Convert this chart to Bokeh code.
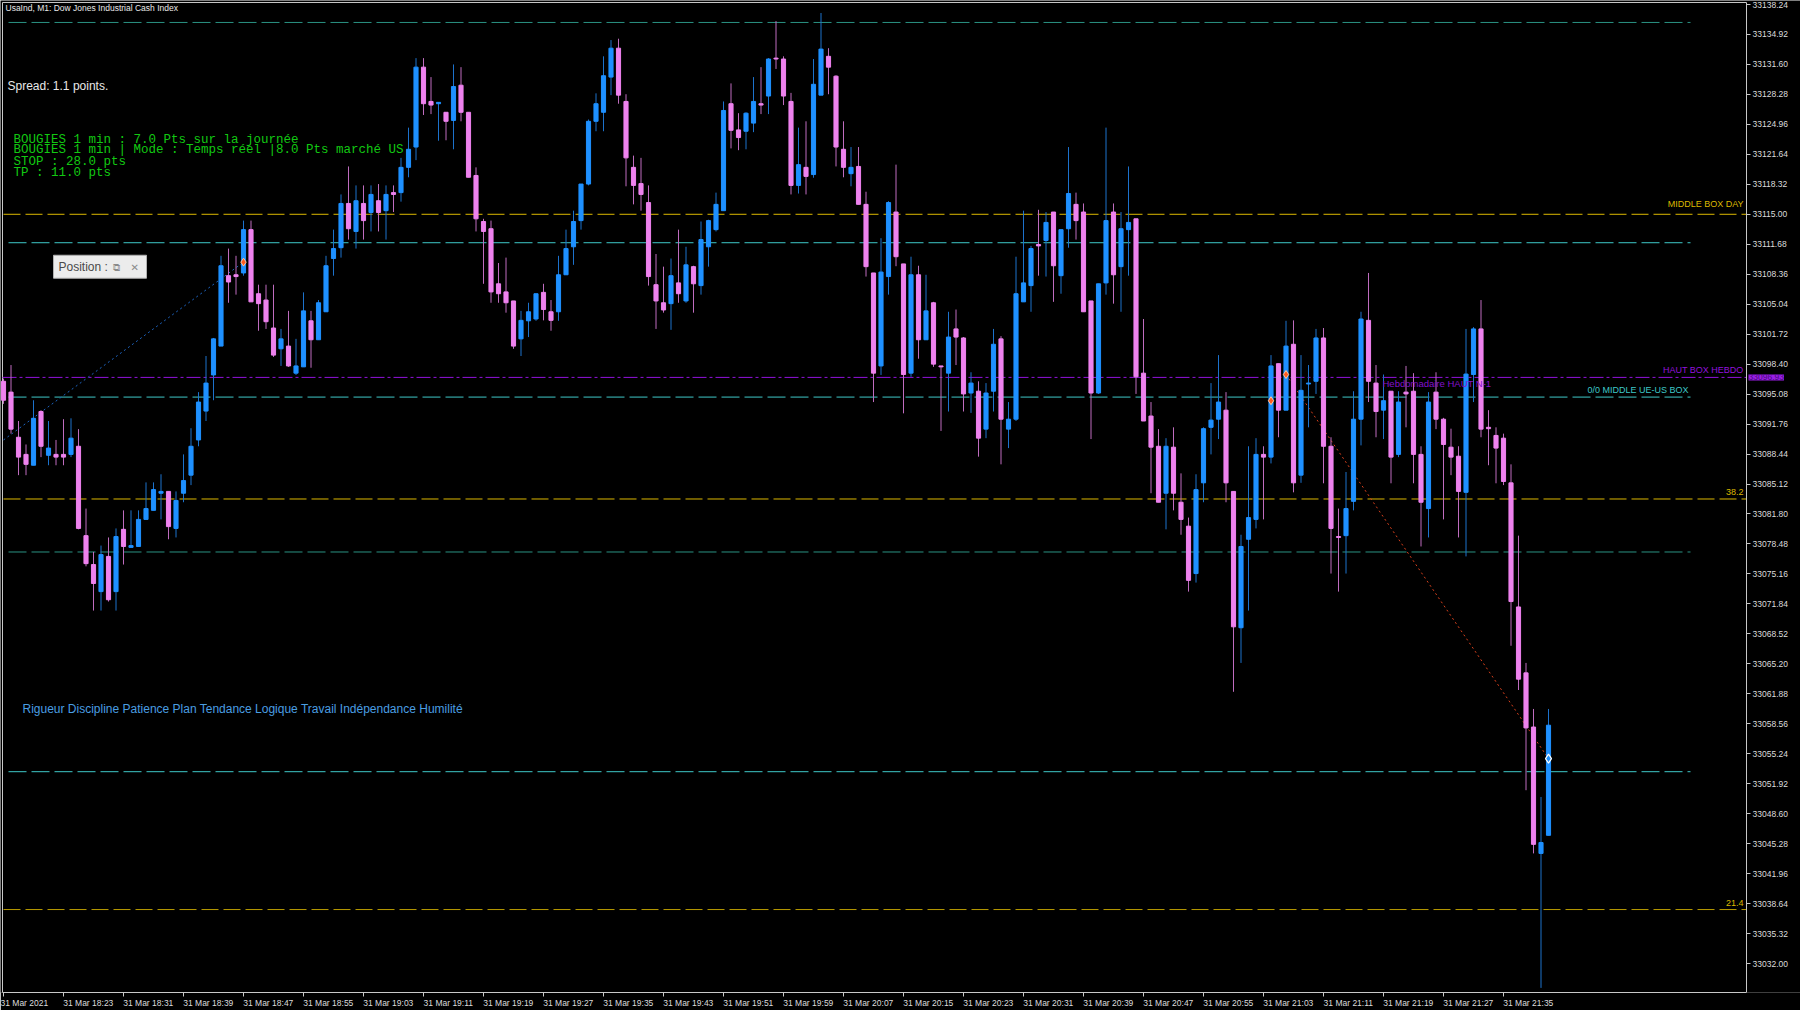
from bokeh.plotting import figure
from bokeh.models import Range1d, LinearAxis, FixedTicker, Label, BoxAnnotation, ColumnDataSource
from bokeh.embed import file_html
from bokeh.resources import INLINE

# ---------------- data ----------------
opens = [33096.5, 33095.3, 33090.3, 33088.4, 33087.2, 33093.15, 33088.3, 33088.4, 33088.4, 33088.4,
         33089.3, 33079.4, 33076.2, 33073.2, 33077.1, 33073.2, 33080.1, 33078.1, 33078.2, 33081.2,
         33082.2, 33084.1, 33084.3, 33080.2, 33084.1, 33086.1, 33090.0, 33093.2, 33097.2, 33100.4,
         33108.2, 33108.3, 33108.5, 33113.3, 33106.2, 33105.5, 33102.4, 33100.1, 33100.4, 33097.4,
         33098.1, 33103.2, 33101.1, 33104.2, 33110.1, 33111.3, 33116.2, 33113.1, 33116.2, 33115.2,
         33116.5, 33115.4, 33117.4, 33117.4, 33120.2, 33122.45, 33131.3, 33127.5, 33127.25, 33126.3,
         33125.4, 33129.3, 33126.3, 33119.3, 33114.2, 33113.4, 33107.3, 33106.4, 33105.4, 33101.2,
         33103.2, 33103.4, 33106.35, 33104.2, 33104.2, 33108.3, 33111.4, 33114.3, 33118.35, 33125.3,
         33126.3, 33130.2, 33133.4, 33127.5, 33120.2, 33118.4, 33116.3, 33107.2, 33105.2, 33105.1,
         33107.4, 33105.4, 33109.2, 33107.1, 33111.4, 33113.3, 33115.4, 33127.25, 33124.35, 33124.2,
         33125.1, 33127.25, 33128.1, 33132.3, 33132.2, 33127.5, 33118.2, 33120.2, 33119.4, 33128.2,
         33132.5, 33130.3, 33122.2, 33119.5, 33120.3, 33116.1, 33108.5, 33098.2, 33108.1, 33115.25,
         33109.5, 33097.4, 33108.3, 33101.1, 33105.2, 33098.2, 33097.4, 33102.3, 33101.3, 33095.2,
         33095.4, 33091.2, 33095.4, 33101.2, 33091.2, 33092.3, 33105.3, 33107.1, 33111.65, 33112.1,
         33115.25, 33108.2, 33113.4, 33116.1, 33115.25, 33105.4, 33095.2, 33107.4, 33115.25, 33109.2,
         33113.3, 33114.5, 33097.4, 33092.65, 33089.3, 33084.1, 33089.2, 33083.1, 33080.45, 33075.2,
         33085.25, 33091.4, 33092.3, 33093.3, 33084.3, 33069.2, 33079.0, 33081.2, 33088.4, 33088.1,
         33098.45, 33093.3, 33100.6, 33086.1, 33096.2, 33096.5, 33101.3, 33089.3, 33079.3, 33079.4,
         33083.2, 33092.3, 33103.25, 33096.3, 33093.3, 33095.4, 33088.4, 33095.3, 33095.4, 33088.4,
         33082.4, 33095.3, 33092.3, 33089.2, 33088.2, 33084.2, 33097.25, 33102.3, 33091.4, 33090.5,
         33090.2, 33085.25, 33071.5, 33064.2, 33058.2, 33044.2, 33046.2]
highs = [33096.8, 33098.3, 33092.1, 33089.5, 33094.4, 33093.3, 33092.1, 33090.0, 33092.3, 33092.4,
         33091.2, 33082.4, 33077.6, 33078.3, 33079.2, 33080.2, 33082.2, 33082.2, 33082.2, 33085.3,
         33085.3, 33086.2, 33084.3, 33084.3, 33088.4, 33091.3, 33095.3, 33099.3, 33101.3, 33110.4,
         33111.2, 33110.4, 33114.3, 33114.3, 33107.2, 33107.2, 33107.2, 33102.3, 33104.3, 33101.2,
         33106.35, 33104.3, 33105.5, 33110.4, 33113.3, 33117.2, 33120.3, 33118.2, 33118.2, 33118.2,
         33118.35, 33118.2, 33118.2, 33121.25, 33124.6, 33132.3, 33132.3, 33130.2, 33127.4, 33126.3,
         33131.6, 33131.3, 33126.3, 33120.2, 33114.5, 33114.3, 33109.6, 33110.2, 33105.4, 33104.3,
         33105.2, 33106.2, 33107.3, 33105.5, 33110.4, 33113.3, 33115.4, 33118.35, 33125.5, 33128.4,
         33132.5, 33134.3, 33134.45, 33128.3, 33121.5, 33121.25, 33118.2, 33110.6, 33109.2, 33110.1,
         33113.3, 33111.4, 33109.3, 33114.2, 33114.4, 33117.4, 33127.5, 33129.5, 33126.2, 33126.3,
         33130.2, 33131.3, 33132.3, 33136.4, 33132.5, 33128.45, 33124.6, 33125.3, 33132.2, 33137.3,
         33133.4, 33130.4, 33125.3, 33122.45, 33122.45, 33117.5, 33108.5, 33112.35, 33116.45, 33120.5,
         33109.5, 33110.3, 33109.3, 33108.3, 33105.3, 33098.2, 33104.2, 33104.45, 33101.4, 33097.5,
         33096.5, 33096.3, 33102.3, 33101.5, 33094.2, 33110.3, 33115.4, 33111.5, 33115.5, 33115.25,
         33115.25, 33113.3, 33122.45, 33117.4, 33116.2, 33105.4, 33107.3, 33124.6, 33116.2, 33115.25,
         33120.3, 33114.5, 33103.4, 33094.2, 33091.2, 33090.2, 33091.4, 33086.3, 33081.4, 33086.2,
         33091.4, 33096.3, 33099.4, 33095.3, 33084.3, 33079.5, 33089.3, 33090.2, 33089.3, 33099.4,
         33098.45, 33103.2, 33103.25, 33099.4, 33098.3, 33102.3, 33102.4, 33090.3, 33082.4, 33086.45,
         33095.4, 33104.2, 33108.5, 33098.3, 33097.25, 33095.4, 33095.4, 33098.2, 33097.4, 33089.3,
         33095.3, 33097.5, 33092.45, 33091.25, 33089.3, 33102.3, 33102.5, 33105.5, 33093.3, 33091.4,
         33090.7, 33087.3, 33079.4, 33065.3, 33060.2, 33050.45, 33060.2]
lows = [33094.0, 33090.7, 33086.1, 33086.1, 33087.2, 33088.1, 33087.2, 33087.2, 33087.2, 33088.1,
        33080.1, 33076.0, 33071.1, 33071.1, 33072.1, 33071.1, 33076.2, 33078.1, 33078.2, 33081.2,
        33082.2, 33081.2, 33079.0, 33079.2, 33083.1, 33085.0, 33089.3, 33092.1, 33094.4, 33100.4,
        33105.2, 33106.1, 33108.2, 33105.3, 33102.1, 33102.3, 33099.2, 33098.2, 33098.1, 33097.2,
        33098.1, 33098.0, 33101.1, 33104.2, 33108.2, 33110.2, 33112.2, 33111.2, 33112.2, 33113.1,
        33113.1, 33112.2, 33115.25, 33116.4, 33119.1, 33121.0, 33126.0, 33126.1, 33123.15, 33123.2,
        33122.2, 33125.3, 33119.1, 33113.1, 33107.3, 33105.2, 33105.2, 33104.1, 33100.1, 33099.3,
        33101.4, 33103.2, 33103.25, 33102.1, 33103.2, 33108.3, 33109.4, 33113.3, 33118.2, 33124.2,
        33124.2, 33128.2, 33127.25, 33118.1, 33116.1, 33115.4, 33107.1, 33102.3, 33104.1, 33102.2,
        33105.2, 33105.2, 33104.1, 33106.1, 33109.2, 33113.1, 33115.4, 33122.3, 33122.1, 33122.2,
        33124.1, 33126.1, 33126.1, 33131.1, 33127.1, 33117.2, 33117.3, 33117.2, 33119.05, 33128.2,
        33128.3, 33120.3, 33119.1, 33118.1, 33116.1, 33108.1, 33094.2, 33097.2, 33106.1, 33109.25,
        33092.95, 33097.0, 33099.0, 33101.1, 33098.1, 33091.0, 33093.15, 33098.3, 33093.15, 33093.0,
        33088.15, 33090.2, 33093.15, 33087.3, 33089.1, 33092.1, 33105.3, 33104.2, 33108.2, 33108.1,
        33105.3, 33106.2, 33111.3, 33112.2, 33104.2, 33090.1, 33095.1, 33106.1, 33105.1, 33104.2,
        33108.2, 33095.1, 33092.1, 33084.1, 33083.1, 33080.1, 33082.2, 33079.5, 33073.2, 33074.2,
        33083.1, 33088.4, 33090.1, 33083.1, 33062.1, 33065.3, 33071.1, 33080.2, 33081.2, 33087.4,
        33090.3, 33093.3, 33084.2, 33085.25, 33091.4, 33095.1, 33085.2, 33075.2, 33073.2, 33075.2,
        33082.2, 33089.4, 33094.2, 33090.3, 33090.1, 33085.2, 33088.1, 33091.4, 33085.2, 33078.2,
        33079.2, 33091.2, 33081.2, 33086.1, 33079.2, 33077.1, 33094.2, 33090.3, 33087.2, 33085.2,
        33085.0, 33067.2, 33062.3, 33051.2, 33044.2, 33029.3, 33046.2]
closes = [33094.4, 33091.2, 33088.1, 33087.3, 33092.4, 33089.3, 33089.1, 33088.1, 33088.1, 33090.2,
          33080.2, 33076.3, 33074.1, 33077.3, 33072.3, 33079.3, 33078.2, 33078.3, 33081.2, 33082.4,
          33084.5, 33084.3, 33080.4, 33083.3, 33085.5, 33089.3, 33094.2, 33096.3, 33101.2, 33109.3,
          33107.5, 33108.1, 33113.3, 33105.3, 33105.1, 33103.1, 33099.4, 33101.2, 33098.2, 33098.2,
          33104.3, 33101.1, 33105.2, 33109.3, 33111.2, 33116.2, 33113.4, 33116.5, 33114.3, 33117.2,
          33115.2, 33117.2, 33117.2, 33120.2, 33122.2, 33131.3, 33127.25, 33127.1, 33127.4, 33125.3,
          33129.15, 33126.3, 33119.1, 33114.5, 33113.1, 33106.4, 33106.2, 33105.2, 33100.4, 33103.25,
          33104.2, 33106.2, 33104.45, 33103.25, 33108.3, 33111.2, 33114.2, 33118.35, 33125.3, 33127.25,
          33130.35, 33133.4, 33128.2, 33121.25, 33118.2, 33117.2, 33108.1, 33105.4, 33104.4, 33108.2,
          33106.2, 33109.4, 33107.3, 33112.2, 33114.3, 33116.1, 33126.5, 33124.3, 33123.5, 33126.2,
          33127.5, 33127.1, 33132.2, 33132.2, 33128.1, 33118.2, 33120.5, 33119.2, 33129.4, 33133.3,
          33131.3, 33122.45, 33120.2, 33120.2, 33116.1, 33109.2, 33097.4, 33108.6, 33116.3, 33110.3,
          33097.25, 33108.3, 33101.1, 33104.3, 33098.4, 33098.1, 33101.4, 33101.4, 33095.1, 33096.3,
          33090.2, 33095.2, 33100.6, 33092.3, 33092.3, 33106.2, 33107.4, 33111.2, 33111.5, 33114.1,
          33109.3, 33113.3, 33117.3, 33114.3, 33104.2, 33095.2, 33107.3, 33114.3, 33108.3, 33113.4,
          33114.1, 33097.0, 33092.1, 33089.2, 33083.1, 33089.3, 33084.1, 33081.2, 33074.45, 33084.5,
          33091.25, 33092.2, 33094.2, 33085.25, 33069.3, 33078.2, 33081.4, 33088.4, 33088.1, 33098.2,
          33093.3, 33100.4, 33085.25, 33095.5, 33096.3, 33101.3, 33089.3, 33080.2, 33079.2, 33082.4,
          33092.3, 33103.4, 33096.5, 33093.15, 33094.35, 33088.1, 33094.2, 33095.1, 33088.4, 33083.1,
          33094.2, 33092.3, 33089.5, 33088.1, 33084.3, 33097.3, 33102.3, 33091.2, 33091.25, 33089.1,
          33085.4, 33072.1, 33063.5, 33058.1, 33045.2, 33045.4, 33058.4]

time_tick_bars = [0, 8, 16, 24, 32, 40, 48, 56, 64, 72, 80, 88, 96, 104, 112, 120, 128, 136, 144,
                  152, 160, 168, 176, 184, 192, 200]
time_tick_labels = ["31 Mar 2021", "31 Mar 18:23", "31 Mar 18:31", "31 Mar 18:39", "31 Mar 18:47",
                    "31 Mar 18:55", "31 Mar 19:03", "31 Mar 19:11", "31 Mar 19:19", "31 Mar 19:27",
                    "31 Mar 19:35", "31 Mar 19:43", "31 Mar 19:51", "31 Mar 19:59", "31 Mar 20:07",
                    "31 Mar 20:15", "31 Mar 20:23", "31 Mar 20:31", "31 Mar 20:39", "31 Mar 20:47",
                    "31 Mar 20:55", "31 Mar 21:03", "31 Mar 21:11", "31 Mar 21:19", "31 Mar 21:27",
                    "31 Mar 21:35"]
price_ticks = [33032.00, 33035.32, 33038.64, 33041.96, 33045.28, 33048.60, 33051.92, 33055.24,
               33058.56, 33061.88, 33065.20, 33068.52, 33071.84, 33075.16, 33078.48, 33081.80,
               33085.12, 33088.44, 33091.76, 33095.08, 33098.40, 33101.72, 33105.04, 33108.36,
               33111.68, 33115.00, 33118.32, 33121.64, 33124.96, 33128.28, 33131.60, 33134.92,
               33138.24]

level_values = [33136.25, 33115.00, 33111.85, 33096.93, 33094.75, 33083.46, 33077.59, 33053.25, 33037.98]
level_texts = ["", "MIDDLE BOX DAY", "", "HAUT BOX HEBDO", "0/0 MIDDLE UE-US BOX", "38.2", "", "", "21.4"]
haut_price_text = "33096.93"

buy_trade_x = [0, 32]
buy_trade_y = [33090.0, 33109.7]
sell_trade_x = [171, 206]
sell_trade_y = [33097.25, 33054.7]
deal_marks_x = [32, 169, 171]
deal_marks_y = [33109.7, 33094.35, 33097.25]
current_mark_x = [206]
current_mark_y = [33054.7]

title_text = "UsaInd, M1:  Dow Jones Industrial Cash Index"
spread_text = "Spread: 1.1 points."
info_lines = ["BOUGIES 1 min : 7.0 Pts sur la journée",
              "BOUGIES 1 min | Mode : Temps réel |8.0 Pts marché US",
              "STOP : 28.0 pts",
              "TP : 11.0 pts"]
motto_text = "Rigueur Discipline Patience Plan Tendance Logique Travail Indépendance Humilité"
hebdo_text = "Hebdomadaire HAUT N-1"
position_text = "Position :"


# ---------------- layout helpers (reference pixel -> data) ----------------
def px_x(px):
    return (px - 3) / 7.5


def px_y(py):
    return 33081.80 - (py - 514) / 9.036


W, H = 1800, 1010
FRAME_BOTTOM = 993
X_LO, X_HI = px_x(0), px_x(W)         # frame spans the whole figure width
Y_LO, Y_HI = px_y(FRAME_BOTTOM), px_y(0)
CHART_L, CHART_R = px_x(2), px_x(1746)  # borders of the price chart
CHART_T = px_y(2)


def left_pad(text):
    # centred axis labels are shifted so that they start at their tick
    return "\u00a0" * int(round(len(text) * 1.75)) + text


UP, DOWN = "#1e90ff", "#ee82ee"
UP_WICK, DOWN_WICK = "#1c72cc", "#bf6cbf"
FRAME = "#c8c8c8"

p = figure(width=W, height=H, x_range=Range1d(X_LO, X_HI), y_range=Range1d(Y_LO, Y_HI),
           output_backend="svg", toolbar_location=None,
           x_axis_location=None, y_axis_location=None,
           background_fill_color="black", border_fill_color="black",
           min_border_left=0, min_border_top=0, min_border_right=0,
           min_border_bottom=H - FRAME_BOTTOM)
p.grid.visible = False
p.outline_line_color = None

# price axis drawn at the chart's right border
yax = LinearAxis(ticker=FixedTicker(ticks=price_ticks), fixed_location=CHART_R, bounds=(Y_LO, CHART_T))
yax.major_label_overrides = {t: "%.2f" % t for t in price_ticks}
yax.axis_line_color = FRAME
yax.major_tick_line_color = FRAME
yax.major_tick_out = 4
yax.major_tick_in = 0
yax.minor_tick_out = 0
yax.minor_tick_in = 0
yax.major_label_standoff = 2
yax.major_label_text_color = "#dcdcdc"
yax.major_label_text_font = "Liberation Sans"
yax.major_label_text_font_size = "8.5px"
p.add_layout(yax, "right")

xax = LinearAxis(ticker=FixedTicker(ticks=time_tick_bars), bounds=(CHART_L, CHART_R))
xax.major_label_overrides = {t: (lab if i == 0 else left_pad(lab))
                             for i, (t, lab) in enumerate(zip(time_tick_bars, time_tick_labels))}
xax.axis_line_color = FRAME
xax.major_tick_line_color = FRAME
xax.major_tick_out = 4
xax.major_tick_in = 0
xax.minor_tick_out = 0
xax.minor_tick_in = 0
xax.major_label_standoff = 1
xax.major_label_text_color = "#dcdcdc"
xax.major_label_text_font = "Liberation Sans"
xax.major_label_text_font_size = "8.5px"
p.add_layout(xax, "below")

# top and left borders of the chart
p.segment(x0=[CHART_L, CHART_L], y0=[CHART_T, Y_LO], x1=[CHART_R, CHART_L], y1=[CHART_T, CHART_T],
          line_color=FRAME, line_width=1)

# horizontal levels
TEAL, CYAN, GOLD, GOLD2, PURPLE = "#2a9282", "#3ec8c8", "#dcb800", "#b89a00", "#9212dc"
level_style = [
    (TEAL, "18 5", px_x(8), px_x(1690)),
    (GOLD, "17 5", px_x(3), CHART_R),
    (CYAN, "18 5", px_x(8), px_x(1690)),
    (PURPLE, "14 3 3 3", CHART_L, CHART_R),
    (CYAN, "18 5", px_x(8), px_x(1690)),
    (GOLD, "17 5", px_x(3), CHART_R),
    (TEAL, "18 5", px_x(8), px_x(1690)),
    (CYAN, "18 5", px_x(8), px_x(1690)),
    (GOLD2, "17 5", px_x(3), CHART_R),
]
for val, (col, dash, x0, x1) in zip(level_values, level_style):
    p.segment(x0=[x0], y0=[val], x1=[x1], y1=[val], line_color=col, line_dash=dash, line_width=1)

# trade lines
p.line(buy_trade_x, buy_trade_y, line_color="#1e64c0", line_dash="2 3", line_width=1)
p.line(sell_trade_x, sell_trade_y, line_color="#d8401c", line_dash="2 3", line_width=1)

# candles
xs = list(range(len(opens)))
up = [c >= o for o, c in zip(opens, closes)]
src = ColumnDataSource(dict(
    x=xs, high=highs, low=lows,
    top=[max(o, c) for o, c in zip(opens, closes)],
    bottom=[min(o, c) for o, c in zip(opens, closes)],
    body=[UP if u else DOWN for u in up],
    wick=[UP_WICK if u else DOWN_WICK for u in up],
))
p.segment(x0="x", y0="low", x1="x", y1="high", line_color="wick", line_width=1, source=src)
p.vbar(x="x", top="top", bottom="bottom", width=0.55, fill_color="body", line_color="body",
       line_width=1, source=src)

# deal markers
p.scatter(deal_marks_x, deal_marks_y, marker="diamond", size=8, fill_color="#ff5a1e",
          line_color="#ffc8a0", line_width=1)
p.scatter(current_mark_x, current_mark_y, marker="diamond", size=9, fill_color=None,
          line_color="white", line_width=1.2)

# level labels
label_pos = {1: (1743, 204, "right", GOLD), 3: (1743, 370, "right", PURPLE),
             4: (1688, 390, "right", CYAN), 5: (1743, 492, "right", GOLD),
             8: (1743, 903, "right", GOLD)}
for idx, (lx, ly, al, col) in label_pos.items():
    p.add_layout(Label(x=px_x(lx), y=px_y(ly), text=level_texts[idx], text_align=al,
                       text_baseline="middle", text_color=col, text_font="Liberation Sans",
                       text_font_size="9px"))

p.add_layout(Label(x=px_x(1382), y=px_y(383), text=hebdo_text, text_align="left",
                   text_baseline="middle", text_color="#8410cc", text_font="Liberation Sans",
                   text_font_size="9.5px"))

# price tag next to the price axis
p.add_layout(Label(x=px_x(1748), y=level_values[3], text=haut_price_text,
                   text_align="left", text_baseline="middle", text_color="#4a0a80",
                   text_font="Liberation Sans", text_font_size="8.5px",
                   background_fill_color="#9a1ee6"))

# texts on the chart
p.add_layout(Label(x=px_x(5), y=px_y(8), text=title_text, text_align="left", text_baseline="middle",
                   text_color="#e8e8e8", text_font="Liberation Sans", text_font_size="8.5px"))
p.add_layout(Label(x=px_x(7), y=px_y(86), text=spread_text, text_align="left", text_baseline="middle",
                   text_color="#e8e8e8", text_font="Liberation Sans", text_font_size="12px"))
for ln, ly in zip(info_lines, [140, 150, 162, 173]):
    p.add_layout(Label(x=px_x(13), y=px_y(ly), text=ln, text_align="left", text_baseline="middle",
                       text_color="#12c812", text_font="Liberation Mono", text_font_size="12.5px"))
p.add_layout(Label(x=px_x(22), y=px_y(709), text=motto_text, text_align="left", text_baseline="middle",
                   text_color="#4a9ee2", text_font="Liberation Sans", text_font_size="12px"))

# "Position" panel
p.add_layout(BoxAnnotation(left=px_x(53), right=px_x(146), top=px_y(255), bottom=px_y(278),
                           fill_color="#ececec", fill_alpha=1, line_color="#b0b0b0", line_width=1,
                           line_alpha=1))
p.add_layout(Label(x=px_x(58), y=px_y(267), text=position_text, text_align="left",
                   text_baseline="middle", text_color="#4a4a4a", text_font="Liberation Sans",
                   text_font_size="12px"))
p.add_layout(Label(x=px_x(112), y=px_y(267), text="⧉", text_align="left", text_baseline="middle",
                   text_color="#8a8a8a", text_font="DejaVu Sans", text_font_size="10px"))
p.add_layout(Label(x=px_x(130), y=px_y(267), text="✕", text_align="left", text_baseline="middle",
                   text_color="#8a8a8a", text_font="DejaVu Sans", text_font_size="10px"))

open("out.html", "w").write(file_html(p, INLINE))
